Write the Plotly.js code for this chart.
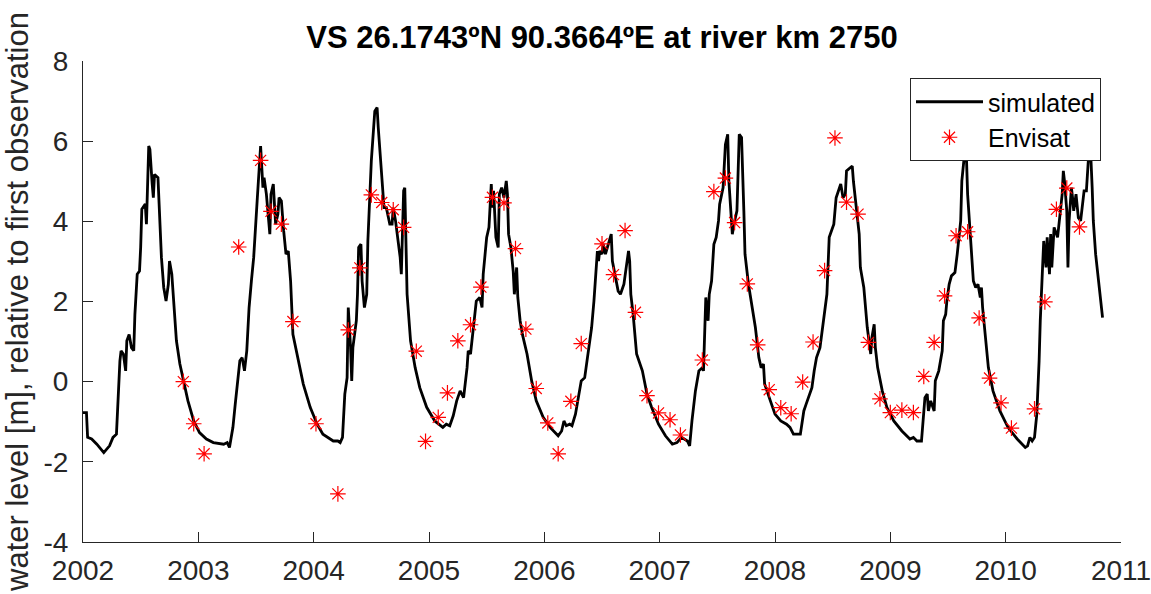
<!DOCTYPE html>
<html>
<head>
<meta charset="utf-8">
<script src="https://cdn.plot.ly/plotly-3.0.1.min.js"></script>
<style>
html,body{margin:0;padding:0;background:#fff;}
#chart{width:1151px;height:594px;}
</style>
</head>
<body>
<div id="chart"></div>
<script>
// ---- simulated water level (decimal year, metres) ----
var simYears = [
2002.000,2002.030,2002.040,2002.075,2002.120,2002.180,2002.230,2002.260,2002.290,2002.300,
2002.320,2002.330,2002.350,2002.370,2002.380,2002.400,2002.420,2002.440,2002.450,2002.470,
2002.490,2002.500,2002.510,2002.540,2002.550,2002.570,2002.580,2002.600,2002.610,2002.620,
2002.650,2002.660,2002.680,2002.700,2002.720,2002.740,2002.750,2002.770,2002.790,2002.810,
2002.840,2002.870,2002.910,2002.960,2003.010,2003.070,2003.130,2003.220,2003.250,2003.270,
2003.300,2003.320,2003.340,2003.360,2003.380,2003.400,2003.420,2003.440,2003.460,2003.480,
2003.510,2003.530,2003.540,2003.560,2003.570,2003.590,2003.620,2003.630,2003.650,2003.670,
2003.690,2003.700,2003.720,2003.740,2003.760,2003.780,2003.800,2003.820,2003.870,2003.910,
2003.970,2004.030,2004.080,2004.170,2004.210,2004.230,2004.250,2004.270,2004.290,2004.300,
2004.320,2004.330,2004.340,2004.370,2004.380,2004.390,2004.410,2004.420,2004.440,2004.460,
2004.470,2004.490,2004.500,2004.530,2004.550,2004.560,2004.580,2004.600,2004.610,2004.630,
2004.660,2004.680,2004.690,2004.710,2004.730,2004.750,2004.760,2004.780,2004.790,2004.800,
2004.810,2004.840,2004.880,2004.920,2004.980,2005.050,2005.120,2005.150,2005.180,2005.210,
2005.240,2005.270,2005.300,2005.330,2005.340,2005.360,2005.390,2005.410,2005.440,2005.460,
2005.470,2005.500,2005.520,2005.540,2005.550,2005.560,2005.580,2005.600,2005.610,2005.630,
2005.650,2005.670,2005.680,2005.690,2005.710,2005.730,2005.740,2005.760,2005.770,2005.790,
2005.810,2005.850,2005.890,2005.930,2005.990,2006.050,2006.120,2006.150,2006.170,2006.190,
2006.220,2006.240,2006.270,2006.290,2006.320,2006.350,2006.380,2006.410,2006.430,2006.440,
2006.460,2006.470,2006.480,2006.500,2006.510,2006.530,2006.560,2006.580,2006.590,2006.610,
2006.640,2006.660,2006.690,2006.710,2006.730,2006.740,2006.750,2006.770,2006.800,2006.850,
2006.890,2006.930,2006.990,2007.050,2007.110,2007.150,2007.190,2007.240,2007.260,2007.280,
2007.310,2007.340,2007.370,2007.380,2007.390,2007.400,2007.420,2007.430,2007.450,2007.470,
2007.490,2007.510,2007.520,2007.540,2007.550,2007.570,2007.580,2007.590,2007.600,2007.620,
2007.630,2007.650,2007.670,2007.690,2007.710,2007.730,2007.740,2007.770,2007.800,2007.830,
2007.860,2007.880,2007.900,2007.910,2007.960,2008.000,2008.050,2008.100,2008.130,2008.160,
2008.220,2008.250,2008.270,2008.290,2008.320,2008.340,2008.360,2008.390,2008.420,2008.450,
2008.470,2008.490,2008.510,2008.530,2008.550,2008.570,2008.590,2008.610,2008.620,2008.650,
2008.670,2008.680,2008.710,2008.730,2008.740,2008.770,2008.800,2008.830,2008.840,2008.860,
2008.870,2008.890,2008.930,2008.970,2009.030,2009.100,2009.170,2009.200,2009.230,2009.270,
2009.300,2009.320,2009.330,2009.350,2009.380,2009.390,2009.420,2009.450,2009.460,2009.480,
2009.490,2009.510,2009.530,2009.560,2009.580,2009.610,2009.620,2009.640,2009.650,2009.660,
2009.670,2009.700,2009.720,2009.740,2009.760,2009.780,2009.790,2009.800,2009.820,2009.850,
2009.890,2009.950,2010.020,2010.100,2010.170,2010.190,2010.210,2010.230,2010.250,2010.270,
2010.290,2010.300,2010.320,2010.330,2010.350,2010.360,2010.380,2010.390,2010.400,2010.420,
2010.450,2010.470,2010.490,2010.500,2010.510,2010.530,2010.540,2010.550,2010.570,2010.580,
2010.590,2010.610,2010.630,2010.650,2010.680,2010.700,2010.710,2010.720,2010.730,2010.740,
2010.750,2010.760,2010.780,2010.800,2010.820,2010.830,2010.840
];
var simLevels = [
-0.77,-0.77,-1.39,-1.43,-1.56,-1.77,-1.60,-1.39,-1.31,-0.64,
0.52,0.77,0.69,0.27,1.02,1.18,0.85,0.77,1.68,2.68,
2.76,3.35,4.30,4.43,3.93,5.88,5.80,4.93,4.59,5.17,
5.09,4.43,3.10,2.35,2.01,2.43,3.01,2.68,1.77,1.02,
0.44,0.02,-0.48,-0.98,-1.27,-1.43,-1.52,-1.56,-1.52,-1.64,
-1.14,-0.56,-0.06,0.52,0.60,0.27,0.77,1.85,2.51,3.10,
4.51,5.42,5.88,4.84,5.09,4.68,3.68,4.68,4.93,3.93,
4.18,4.59,4.51,3.76,3.18,3.26,2.51,1.18,0.52,-0.06,
-0.64,-1.06,-1.31,-1.48,-1.48,-1.52,-1.39,-0.31,0.10,1.85,
0.85,0.02,0.85,1.52,2.18,3.35,3.43,2.51,1.85,2.18,
3.51,4.68,5.51,6.75,6.84,6.34,5.51,4.68,4.34,4.34,
3.93,3.93,4.34,4.01,3.51,3.10,2.68,4.76,4.84,3.51,
2.18,1.02,0.35,-0.15,-0.64,-0.98,-1.14,-1.06,-1.10,-0.85,
-0.48,-0.23,-0.40,0.35,0.77,0.69,1.52,2.01,2.10,1.85,
2.68,3.60,3.85,4.93,4.34,4.76,3.60,3.35,4.68,4.84,
4.59,5.01,4.68,3.68,3.35,2.76,2.18,2.85,2.10,1.52,
1.18,0.69,0.02,-0.48,-0.89,-1.14,-1.35,-1.23,-0.98,-1.10,
-1.06,-1.10,-0.81,-0.48,0.02,0.10,0.69,1.35,2.01,2.51,
3.26,3.01,3.26,3.18,3.43,3.18,3.51,3.68,3.01,2.68,
2.26,2.18,2.43,2.85,3.26,3.01,2.18,1.68,0.69,0.27,
-0.31,-0.64,-1.06,-1.35,-1.56,-1.52,-1.39,-1.48,-1.60,-0.98,
-0.23,0.27,0.35,0.27,1.52,2.10,1.52,2.18,2.51,3.43,
3.60,4.01,4.43,4.76,4.84,5.92,6.09,6.17,5.01,4.01,
3.68,4.01,4.26,6.17,6.09,4.26,3.18,2.43,1.93,1.35,
0.60,0.35,0.44,-0.06,-0.48,-0.81,-0.98,-1.06,-1.14,-1.31,
-1.31,-0.73,-0.56,-0.40,-0.15,0.27,0.60,0.85,1.52,2.18,
3.60,3.76,3.93,4.59,4.76,4.93,4.59,4.68,5.26,5.34,
5.38,5.00,4.18,3.68,2.85,2.35,1.35,0.69,1.10,1.43,
0.85,0.35,-0.23,-0.64,-0.98,-1.23,-1.43,-1.39,-1.48,-1.48,
-0.40,-0.31,-0.73,-0.48,-0.73,0.02,0.27,0.77,1.52,1.68,
2.01,2.43,2.64,2.72,3.18,4.01,5.01,5.59,6.10,5.59,
4.68,3.51,2.51,2.35,2.43,2.10,2.35,1.85,1.18,0.35,
-0.23,-0.73,-1.14,-1.43,-1.64,-1.60,-1.39,-1.48,-1.39,-0.81,
0.52,1.52,2.85,3.51,2.85,3.60,2.68,3.68,2.85,3.85,
3.60,4.18,4.68,5.26,5.00,4.26,2.85,4.01,4.84,4.59,
4.26,4.68,4.09,4.01,4.76,4.76,5.26,5.67,5.90,5.51,
4.84,4.01,3.18,2.68,2.26,1.85,1.60
];

// ---- Envisat altimetry observations ----
var envYears = [
2002.87,2002.96,2003.05,2003.35,2003.54,2003.63,2003.72,2003.82,2004.02,2004.21,
2004.30,2004.40,2004.50,2004.59,2004.69,2004.78,2004.89,2004.97,2005.08,2005.16,
2005.25,2005.36,2005.45,2005.55,2005.65,2005.75,2005.84,2005.93,2006.03,2006.12,
2006.23,2006.32,2006.50,2006.60,2006.70,2006.79,2006.89,2006.99,2007.09,2007.18,
2007.37,2007.47,2007.57,2007.65,2007.76,2007.85,2007.95,2008.05,2008.14,2008.24,
2008.33,2008.43,2008.52,2008.62,2008.72,2008.81,2008.91,2009.00,2009.10,2009.20,
2009.29,2009.38,2009.47,2009.57,2009.67,2009.77,2009.86,2009.96,2010.05,2010.25,
2010.34,2010.44,2010.53,2010.64
];
var envLevels = [
0.00,-1.05,-1.80,3.36,5.52,4.25,3.93,1.50,-1.05,-2.80,
1.29,2.84,4.66,4.47,4.29,3.85,0.76,-1.49,-0.89,-0.28,
1.02,1.42,2.36,4.60,4.46,3.32,1.31,-0.17,-1.03,-1.80,
-0.49,0.95,3.44,2.67,3.77,1.73,-0.35,-0.78,-0.95,-1.33,
0.54,4.74,5.08,3.97,2.44,0.92,-0.20,-0.65,-0.80,-0.01,
0.99,2.77,6.08,4.48,4.18,0.98,-0.43,-0.77,-0.71,-0.77,
0.13,0.98,2.14,3.64,3.74,1.59,0.09,-0.53,-1.16,-0.68,
1.99,4.30,4.83,3.86
];

var xTicks = [2002,2003,2004,2005,2006,2007,2008,2009,2010,2011];
var yTicks = [-4,-2,0,2,4,6,8];
var titleText = 'VS 26.1743\u00baN 90.3664\u00baE at river km 2750';
var yTitleText = 'water level [m], relative to first observation';

var FONT = '"Liberation Sans", Arial, Helvetica, sans-serif';
var AX = '#262626';

var traces = [
  {
    x: simYears, y: simLevels, type: 'scatter', mode: 'lines', name: 'simulated',
    line: {color: '#000000', width: 2.8}
  },
  {
    x: envYears, y: envLevels, type: 'scatter', mode: 'markers', name: 'Envisat',
    marker: {symbol: 'asterisk-open', size: 13, color: '#ff0000', line: {color: '#ff0000', width: 1.2}}
  }
];

var layout = {
  width: 1151, height: 594,
  margin: {l: 83, r: 30, t: 61, b: 52, pad: 0},
  paper_bgcolor: '#ffffff', plot_bgcolor: '#ffffff',
  font: {family: FONT, color: AX, size: 28},
  showlegend: true,
  title: {
    text: titleText,
    font: {family: FONT, size: 31, color: '#000000', weight: 'bold'},
    x: 0.5, xref: 'paper', xanchor: 'center',
    y: 1 - 37/594, yref: 'container', yanchor: 'middle'
  },
  xaxis: {
    range: [2002, 2011], tickmode: 'array', tickvals: xTicks, ticktext: xTicks.map(String),
    showgrid: false, zeroline: false, showline: true, linecolor: AX, linewidth: 1,
    ticks: 'inside', ticklen: 10, tickwidth: 1, tickcolor: AX,
    tickfont: {family: FONT, size: 28, color: AX}, ticklabelstandoff: 3,
    ticklabeloverflow: 'allow',
    mirror: false, fixedrange: true
  },
  yaxis: {
    range: [-4, 8], tickmode: 'array', tickvals: yTicks, ticktext: yTicks.map(String),
    showgrid: false, zeroline: false, showline: true, linecolor: AX, linewidth: 1,
    ticks: 'inside', ticklen: 10, tickwidth: 1, tickcolor: AX,
    tickfont: {family: FONT, size: 28, color: AX}, ticklabelstandoff: 8,
    ticklabeloverflow: 'allow',
    title: {text: yTitleText, font: {family: FONT, size: 31, color: AX}, standoff: 8},
    mirror: false, fixedrange: true
  },
  legend: {
    x: (910-83)/1038, y: 1 - (78-61)/481, xanchor: 'left', yanchor: 'top',
    bgcolor: '#ffffff', bordercolor: AX, borderwidth: 1,
    font: {family: FONT, size: 25, color: '#000000'},
    itemwidth: 67, tracegroupgap: 0
  }
};

Plotly.newPlot('chart', traces, layout, {displayModeBar: false, staticPlot: true});
</script>
</body>
</html>
